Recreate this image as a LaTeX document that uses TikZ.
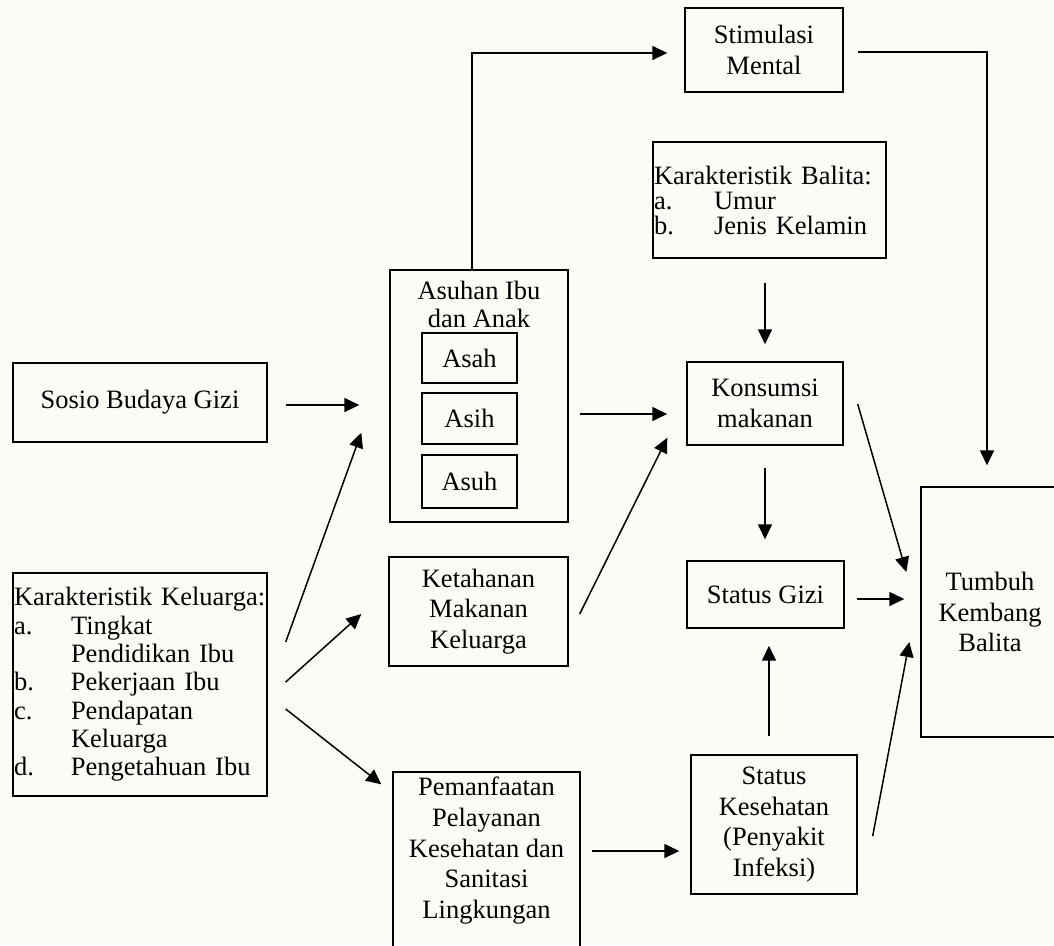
\documentclass[tikz,border=0pt]{standalone}
\usepackage{fontspec}
\setmainfont{Liberation Serif}
\usetikzlibrary{arrows.meta,calc}
\definecolor{bg}{RGB}{252,252,247}
\begin{document}
\begin{tikzpicture}[x=1pt,y=-1pt,
  box/.style={draw=black, line width=1.4pt, inner sep=0pt, align=center,
    font=\fontsize{26.5}{30.5}\selectfont},
  listbox/.style={box, align=left, inner xsep=1pt},
  arr/.style={line width=1.5pt, -{Triangle[length=15pt,width=14pt]}}]
\useasboundingbox (0,0) rectangle (1054,945);
\fill[bg] (0,0) rectangle (1054,945);
\clip (0,0) rectangle (1054,945);

% nodes
\node[box, minimum width=158pt, minimum height=84pt] (stim) at (764,50) {Stimulasi\\Mental};
\node[listbox, minimum height=116pt, text width=231pt,
  font=\fontsize{26.5}{25}\selectfont] (kbal) at (769.5,200)
  {Karakteristik Balita:\\\makebox[60pt][l]{a.}Umur\\\makebox[60pt][l]{b.}Jenis Kelamin};
\node[box, minimum width=178pt, minimum height=252pt] (asuhan) at (479,396)
  {\parbox[c][252pt][t]{176pt}{\centering\fontsize{26.5}{28}\selectfont\vspace*{11pt}Asuhan Ibu\\dan Anak}};
\node[box, minimum width=95pt, minimum height=50pt] (asah) at (469.5,358) {Asah};
\node[box, minimum width=95pt, minimum height=51pt] (asih) at (469.5,418.5) {Asih};
\node[box, minimum width=95pt, minimum height=53pt] (asuh) at (469.5,481.5) {Asuh};
\node[box, minimum width=254pt, minimum height=79pt] (sosio) at (140,402.5) {Sosio Budaya Gizi};
\node[box, minimum width=156pt, minimum height=83pt] (kons) at (765,403.5) {Konsumsi\\makanan};
\node[box, minimum width=157pt, minimum height=67pt] (gizi) at (765.5,594.5) {Status Gizi};
\node[box, minimum width=138pt, minimum height=250pt] (tumbuh) at (990,612) {Tumbuh\\Kembang\\Balita};
\node[box, minimum width=166pt, minimum height=139pt] (stkes) at (774,824.5) {Status\\Kesehatan\\(Penyakit\\Infeksi)};
\node[box, minimum width=179pt, minimum height=109pt] (keta) at (478.5,611.5) {Ketahanan\\Makanan\\Keluarga};
\node[listbox, minimum height=223pt, text width=252pt,
  font=\fontsize{26.5}{28.3}\selectfont] (kel) at (140,684.5)
  {Karakteristik Keluarga:\\
   \makebox[57pt][l]{a.}Tingkat\\
   \hspace*{57pt}Pendidikan Ibu\\
   \makebox[57pt][l]{b.}Pekerjaan Ibu\\
   \makebox[57pt][l]{c.}Pendapatan\\
   \hspace*{57pt}Keluarga\\
   \makebox[57pt][l]{d.}Pengetahuan Ibu};
\node[box, minimum width=187pt, minimum height=200pt] (pem) at (486.5,872)
  {\parbox[c][200pt][t]{185pt}{\centering\fontsize{26.5}{30.75}\selectfont\vspace*{5pt}Pemanfaatan\\Pelayanan\\Kesehatan dan\\Sanitasi\\Lingkungan}};

% connectors
\draw[arr] ($(sosio.east)+(18,2.5)$) -- ($(sosio.east-|asuhan.west)+(-30,2.5)$);
\draw[arr] ($(asuhan.east)+(11,18)$) -- ($(kons.west|-asuhan.east)+(-19,18)$);
\draw[arr] ($(kel.east)+(18,-42.5)$) -- ($(asuhan.south west)+(-28,-90)$);
\draw[arr] ($(kel.east)+(18,-2.5)$) -- ($(keta.west)+(-27,2.5)$);
\draw[arr] ($(kel.east)+(18,24.5)$) -- ($(pem.north west)+(-11,13)$);
\draw[arr] ($(keta.east)+(11,2.5)$) -- ($(kons.south west)+(-19,-8)$);
\draw[arr] ($(kbal.south-|kons.north)+(0,24)$) -- ($(kons.north)+(0,-17)$);
\draw[arr] ($(kons.south)+(0,22)$) -- ($(kons.south|-gizi.north)+(0,-21)$);
\draw[arr] ($(stkes.north)+(-5,-18)$) -- ($(stkes.north|-gizi.south)+(-5,17)$);
\draw[arr] ($(gizi.east)+(12,4.5)$) -- ($(tumbuh.west|-gizi.east)+(-16,4.5)$);
\draw[arr] ($(kons.east)+(14,0.5)$) -- ($(tumbuh.west)+(-14,-40)$);
\draw[arr] ($(stkes.east)+(15,11.5)$) -- ($(tumbuh.west)+(-11,30)$);
\draw[arr] ($(pem.east|-stkes.west)+(11,26.5)$) -- ($(stkes.west)+(-11,26.5)$);
\draw[arr] ($(asuhan.north)+(-7,0)$) |- ($(stim.west)+(-17,3)$);
\draw[arr] ($(stim.east)+(14,2)$) -| ($(tumbuh.north)+(-3,-21)$);
\end{tikzpicture}
\end{document}
